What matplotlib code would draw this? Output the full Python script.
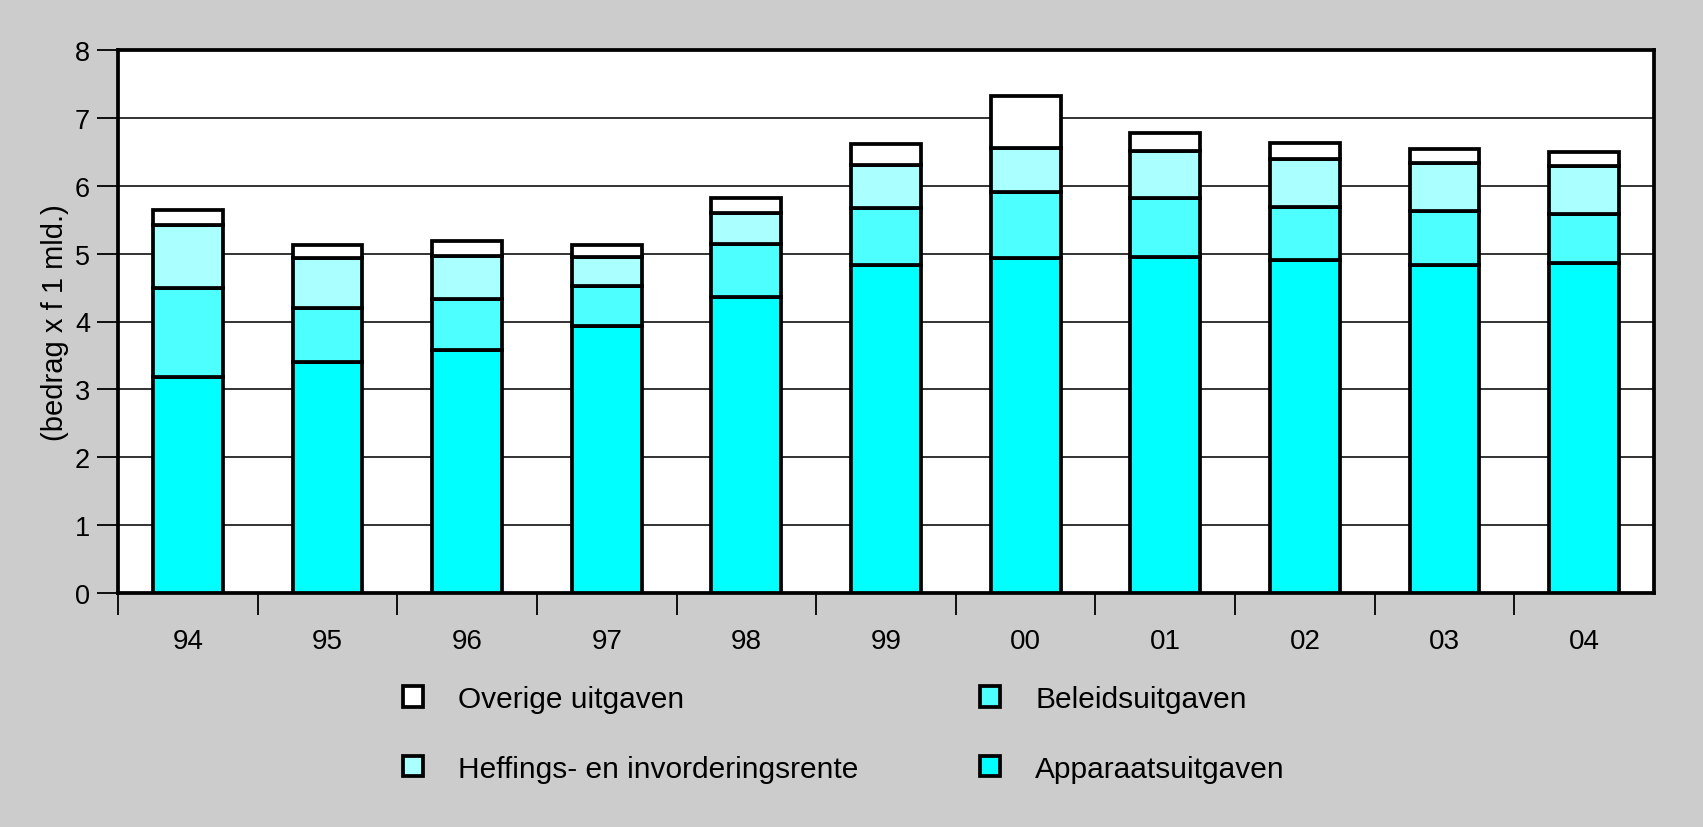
import matplotlib
matplotlib.use("Agg")
import matplotlib.pyplot as plt
import numpy as np

plt.rcParams['font.family'] = ['Liberation Sans', 'DejaVu Sans']

years = ["94", "95", "96", "97", "98", "99", "00", "01", "02", "03", "04"]
apparaat = [3.18, 3.40, 3.58, 3.93, 4.36, 4.83, 4.93, 4.95, 4.91, 4.83, 4.86]
beleid = [1.32, 0.80, 0.75, 0.59, 0.78, 0.84, 0.98, 0.87, 0.77, 0.80, 0.73]
heffings = [0.92, 0.74, 0.64, 0.43, 0.46, 0.64, 0.65, 0.69, 0.71, 0.70, 0.70]
overige = [0.22, 0.18, 0.21, 0.18, 0.22, 0.31, 0.76, 0.27, 0.24, 0.21, 0.20]

series = [
    ("Apparaatsuitgaven", apparaat, "#00ffff"),
    ("Beleidsuitgaven", beleid, "#4dffff"),
    ("Heffings- en invorderingsrente", heffings, "#aaffff"),
    ("Overige uitgaven", overige, "#ffffff"),
]

W, H = 1703, 828
fig = plt.figure(figsize=(W / 100, H / 100), dpi=100, facecolor="#cccccc")
ax = fig.add_axes([118 / W, (H - 594) / H, (1654 - 118) / W, (594 - 51) / H])
ax.set_facecolor("white")

x = np.arange(len(years))
bottom = np.zeros(len(years))
handles = {}
for name, vals, col in series:
    b = ax.bar(x, vals, 0.5, bottom=bottom, color=col, edgecolor="black",
               linewidth=2.7, zorder=3, label=name)
    handles[name] = b
    bottom = bottom + np.array(vals)

ax.set_xlim(-0.5, 10.5)
ax.set_ylim(0, 8)
ax.set_yticks(range(0, 9))
ax.yaxis.grid(True, color="#222222", linewidth=1.3, zorder=0)
ax.set_axisbelow(True)

ax.set_xticks(np.arange(-0.5, 10, 1.0))
ax.set_xticklabels([])
ax.set_xticks(x, minor=True)
ax.set_xticklabels(years, minor=True)
ax.tick_params(axis="x", which="major", length=16, width=1.3, direction="out")
ax.tick_params(axis="x", which="minor", length=0, pad=25, labelsize=20)
ax.tick_params(axis="y", length=15, width=1.3, direction="out", pad=5, labelsize=19.5)

for s in ax.spines.values():
    s.set_linewidth(2.7)
    s.set_color("black")

ax.set_ylabel("(bedrag x f 1 mld.)", fontsize=21, labelpad=4)

order = ["Overige uitgaven", "Heffings- en invorderingsrente",
         "Beleidsuitgaven", "Apparaatsuitgaven"]
leg = fig.legend([handles[n] for n in order], order, ncol=2,
                 loc="upper left", bbox_to_anchor=(403 / W, (H - 686) / H),
                 frameon=False, fontsize=21.5, borderpad=0, borderaxespad=0,
                 handlelength=0.67, handleheight=0.67, handletextpad=1.17,
                 columnspacing=4.08, labelspacing=1.39)

fig.savefig("out.png", dpi=100, facecolor=fig.get_facecolor())
